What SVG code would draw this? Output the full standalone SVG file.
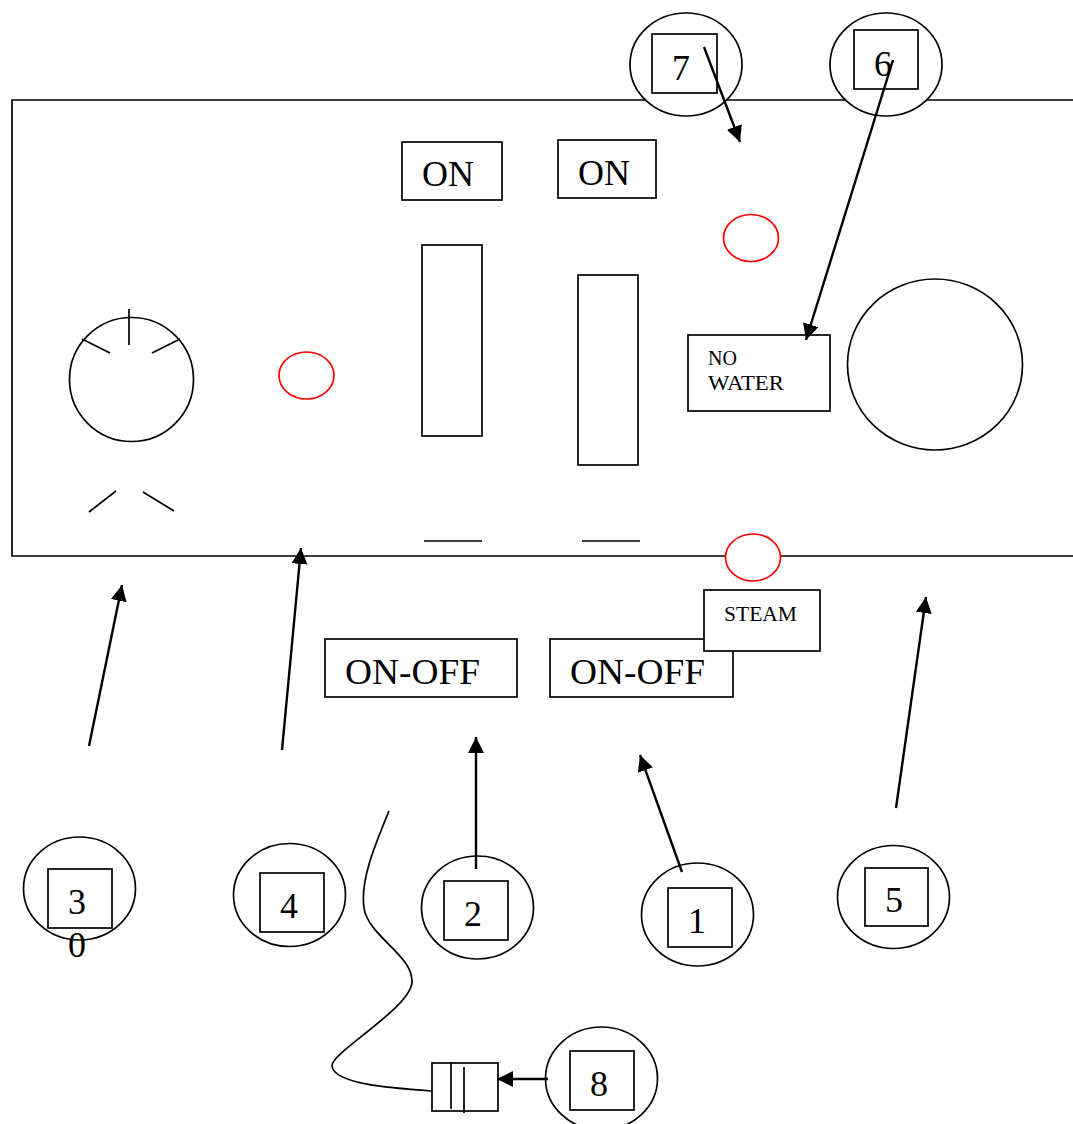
<svg xmlns="http://www.w3.org/2000/svg" width="1073" height="1124" viewBox="0 0 1073 1124">
<style>
.s{fill:none;stroke:#000;stroke-width:1.7}
.w{fill:#fff;stroke:#000;stroke-width:1.7}
.r{fill:#fff;stroke:#f00;stroke-width:1.7}
.a{fill:none;stroke:#000;stroke-width:2.4;marker-end:url(#m)}
text{font-family:"Liberation Serif",serif;fill:#000}
.b{font-size:36px}
.t{font-size:20px}
</style>
<defs><marker id="m" markerUnits="userSpaceOnUse" markerWidth="17" markerHeight="17" refX="16" refY="8" orient="auto"><path d="M0 0L16 8L0 16Z" fill="#000"/></marker></defs>
<g id="panel"><path class="s" d="M1073 100H12V556H1073"/></g>
<g id="dial"><circle class="s" cx="131.500" cy="379.500" r="62"/><path class="s" d="M129 309V345M82 339L110 353M180 339L152 353M89 512L116 491M174 511L143 492"/></g>
<g id="lamp-left"><ellipse class="r" cx="306.500" cy="375.500" rx="27.500" ry="23.500"/></g>
<g id="lamp-top"><ellipse class="r" cx="751" cy="238" rx="27.500" ry="23.500"/></g>
<g id="lamp-bottom"><ellipse class="r" cx="753" cy="557.500" rx="27.500" ry="23.500"/></g>
<g id="big-circle"><ellipse class="s" cx="935" cy="364.500" rx="87.500" ry="85.500"/></g>
<g id="on-1"><rect class="s" x="402" y="142" width="100" height="58"/><text class="b" x="422" y="186">ON</text></g>
<g id="on-2"><rect class="s" x="558" y="140" width="98" height="58"/><text class="b" x="578" y="185">ON</text></g>
<g id="slot-1"><rect class="s" x="422" y="245" width="60" height="191"/><path class="s" d="M424 541H482"/></g>
<g id="slot-2"><rect class="s" x="578" y="275" width="60" height="190"/><path class="s" d="M582 541H640"/></g>
<g id="no-water"><rect class="s" x="688" y="335" width="142" height="76"/><text class="t" x="708" y="365">NO</text><text class="t" x="708" y="390" textLength="76" lengthAdjust="spacingAndGlyphs">WATER</text></g>
<g id="on-off-1"><rect class="s" x="325" y="639" width="192" height="58"/><text class="b" x="345" y="684" textLength="135" lengthAdjust="spacingAndGlyphs">ON-OFF</text></g>
<g id="on-off-2"><rect class="s" x="550" y="639" width="183" height="58"/><text class="b" x="570" y="684" textLength="135" lengthAdjust="spacingAndGlyphs">ON-OFF</text></g>
<g id="steam"><rect class="w" x="704" y="590" width="116" height="61"/><text class="t" x="724" y="621" textLength="73" lengthAdjust="spacingAndGlyphs">STEAM</text></g>
<g id="n7"><ellipse class="w" cx="686" cy="64.500" rx="56" ry="51.500"/><rect class="s" x="652" y="34" width="65" height="59"/><text class="b" x="672" y="80">7</text></g>
<g id="n6"><ellipse class="w" cx="886" cy="64.500" rx="56" ry="51.500"/><rect class="s" x="854" y="30" width="64" height="59"/><text class="b" x="874" y="76">6</text></g>
<g id="n3"><ellipse class="s" cx="79.500" cy="888.500" rx="56" ry="51.500"/><rect class="s" x="48" y="869" width="64" height="59"/><text class="b" x="68" y="914">3</text><text class="b" x="68" y="957">0</text></g>
<g id="n4"><ellipse class="s" cx="289.500" cy="895" rx="56" ry="51.500"/><rect class="s" x="260" y="873" width="64" height="59"/><text class="b" x="280" y="918">4</text></g>
<g id="n2"><ellipse class="s" cx="477.500" cy="907.500" rx="56" ry="51.500"/><rect class="s" x="444" y="881" width="64" height="59"/><text class="b" x="464" y="926">2</text></g>
<g id="n1"><ellipse class="s" cx="697.500" cy="914.500" rx="56" ry="51.500"/><rect class="s" x="668" y="888" width="64" height="59"/><text class="b" x="688" y="933">1</text></g>
<g id="n5"><ellipse class="s" cx="893.500" cy="897" rx="56" ry="51.500"/><rect class="s" x="865" y="868" width="63" height="58"/><text class="b" x="885" y="912">5</text></g>
<g id="n8"><ellipse class="s" cx="601.500" cy="1078.500" rx="56" ry="51.500"/><rect class="s" x="570" y="1051" width="64" height="59"/><text class="b" x="590" y="1096">8</text></g>
<g id="plug"><rect class="s" x="432" y="1063" width="66" height="48"/><path class="s" d="M451 1063V1109M464 1067V1113"/></g>
<g id="connectors">
<path class="s" d="M389 811C375 845 360 880 364 908C368 936 413 955 412 982C411 1008 330 1053 332 1066C334 1084 390 1088 432 1091"/>
<path class="a" d="M704 47L740 142"/>
<path class="a" d="M893 60L806 340"/>
<path class="a" d="M89 746L122 585"/>
<path class="a" d="M282 750L301 548"/>
<path class="a" d="M476 869V737"/>
<path class="a" d="M682 872L640 755"/>
<path class="a" d="M896 808L926 597"/>
<path class="a" d="M548 1079H497"/>
</g>
</svg>
